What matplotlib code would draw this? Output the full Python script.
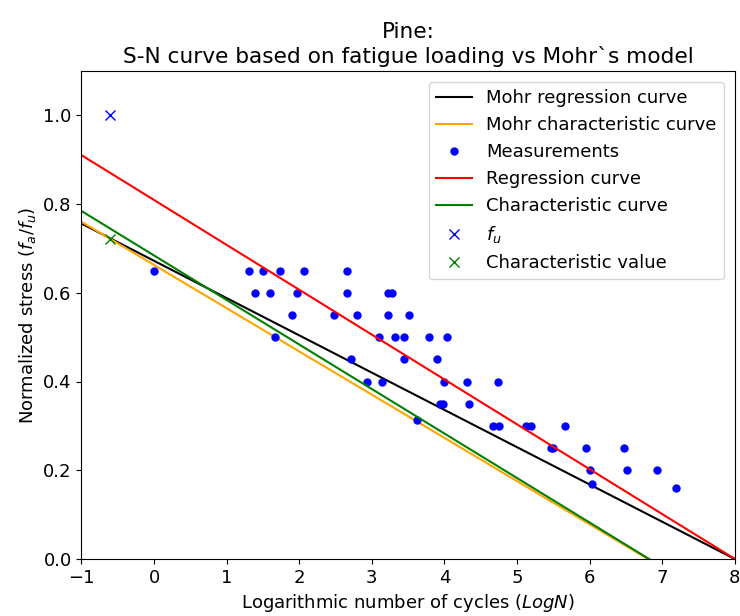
import numpy as np
import matplotlib
matplotlib.use("Agg")
import matplotlib.pyplot as plt

plt.rcParams["font.size"] = 13

# Measurements (LogN, normalized stress)
meas_x = [0.0, 1.303, 1.500, 1.734, 2.061, 2.661,
          1.390, 1.592, 1.964, 2.661, 3.218, 3.281,
          1.900, 2.478, 2.791, 3.218, 3.511,
          1.661, 3.094, 3.314, 3.442, 3.787, 4.039,
          2.716, 3.442, 3.897,
          2.937, 3.135, 3.989, 4.314, 4.733,
          3.938, 3.975, 4.333,
          3.625,
          4.672, 4.751, 5.118, 5.187, 5.660,
          5.471, 5.490, 5.953, 6.477,
          6.004, 6.514, 6.927,
          6.028, 7.185]
meas_y = [0.65, 0.65, 0.65, 0.65, 0.65, 0.65,
          0.60, 0.60, 0.60, 0.60, 0.60, 0.60,
          0.55, 0.55, 0.55, 0.55, 0.55,
          0.50, 0.50, 0.50, 0.50, 0.50, 0.50,
          0.45, 0.45, 0.45,
          0.40, 0.40, 0.40, 0.40, 0.40,
          0.35, 0.35, 0.35,
          0.313,
          0.30, 0.30, 0.30, 0.30, 0.30,
          0.25, 0.25, 0.25, 0.25,
          0.20, 0.20, 0.20,
          0.17, 0.161]

# Lines: (intercept at LogN=0, slope)
mohr_reg = (0.672, -0.0840)
mohr_char = (0.6626, -0.0974)
reg = (0.809, -0.1011)
char = (0.684, -0.1003)

fu_point = (-0.61, 1.0)
char_point = (-0.61, 0.722)

xline = np.linspace(-1, 8, 200)

fig = plt.figure(figsize=(7.4, 6.16), dpi=100)
ax = fig.add_axes([0.110, 0.0925, 0.883, 0.7925])

ax.plot(xline, mohr_reg[0] + mohr_reg[1] * xline, color="black", label="Mohr regression curve")
ax.plot(xline, mohr_char[0] + mohr_char[1] * xline, color="orange", label="Mohr characteristic curve")
ax.plot(meas_x, meas_y, "o", color="blue", ms=5, ls="", label="Measurements")
ax.plot(xline, reg[0] + reg[1] * xline, color="red", label="Regression curve")
ax.plot(xline, char[0] + char[1] * xline, color="green", label="Characteristic curve")
ax.plot([fu_point[0]], [fu_point[1]], "x", color="blue", ms=7, ls="", label=r"$f_u$")
ax.plot([char_point[0]], [char_point[1]], "x", color="green", ms=7, ls="", label="Characteristic value")

ax.set_xlim(-1, 8)
ax.set_ylim(0, 1.1)
ax.set_xticks(range(-1, 9))
ax.set_yticks([0.0, 0.2, 0.4, 0.6, 0.8, 1.0])
ax.set_xlabel(r"Logarithmic number of cycles ($LogN$)")
ax.set_ylabel(r"Normalized stress ($f_a/f_u$)")
ax.set_title("Pine:\nS-N curve based on fatigue loading vs Mohr`s model")
ax.legend(loc="upper right", borderaxespad=0.6)

fig.savefig("out.png", dpi=100)
